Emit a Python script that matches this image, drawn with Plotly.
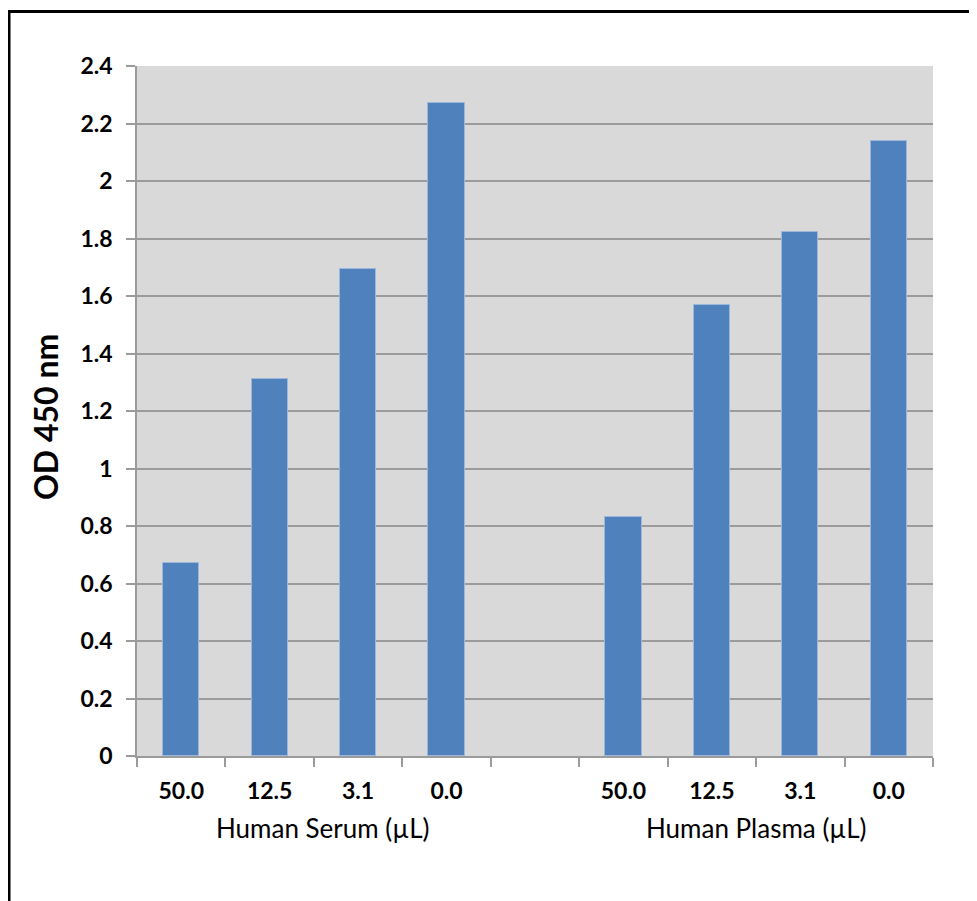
import plotly.graph_objects as go

# ---- data ----
dilutions = ["50.0", "12.5", "3.1", "0.0"]
serum_od = [0.670, 1.310, 1.694, 2.271]
plasma_od = [0.832, 1.569, 1.822, 2.140]
group_labels = ["Human Serum (µL)", "Human Plasma (µL)"]
y_tick_values = [0, 0.2, 0.4, 0.6, 0.8, 1.0, 1.2, 1.4, 1.6, 1.8, 2.0, 2.2, 2.4]
y_tick_labels = ["0", "0.2", "0.4", "0.6", "0.8", "1", "1.2", "1.4", "1.6", "1.8", "2", "2.2", "2.4"]
y_title = "OD 450 nm"

# ---- layout constants (pixels, page coordinates; page body has an 8px margin) ----
OFF = 8
W, H = 977, 901
L, R, T, B = 137 - OFF, 44 + OFF, 66 - OFF, 145 + OFF
PW, PH = W - L - R, H - T - B

def px_x(p):
    return (p - OFF - L) / PW

def px_y(p):
    return (H - B - (p - OFF)) / PH

n = len(dilutions)
serum_x = list(range(n))
plasma_x = [i + n + 1 for i in range(n)]
all_slots = n * 2 + 1

BAR = "#4F81BD"
GRID = "#9b9b9b"
FONT = "Lato"

fig = go.Figure()
for xs, ys in ((serum_x, serum_od), (plasma_x, plasma_od)):
    fig.add_trace(go.Bar(
        x=xs, y=ys, width=0.41,
        marker=dict(color=BAR, line=dict(color="#9bb7dc", width=1)),
        showlegend=False, hoverinfo="y",
    ))

fig.update_layout(
    width=W, height=H,
    margin=dict(l=L, r=R, t=T, b=B, autoexpand=False),
    paper_bgcolor="white", plot_bgcolor="#D9D9D9",
    bargap=0,
    font=dict(family=FONT, color="black"),
)

fig.update_xaxes(
    range=[-0.5, all_slots - 0.5],
    tickmode="array",
    tickvals=serum_x + plasma_x,
    ticktext=dilutions + dilutions,
    ticks="", showgrid=False, zeroline=False,
    showline=True, linecolor=GRID, linewidth=1.5,
    tickfont=dict(family=FONT, size=23, color="black", weight="bold"),
    ticklabelstandoff=14,
    minor=dict(tickmode="array",
               tickvals=[i - 0.5 for i in range(all_slots + 1)],
               ticks="outside", ticklen=9, tickcolor=GRID, tickwidth=1.5,
               showgrid=False),
    fixedrange=True,
)

fig.update_yaxes(
    range=[0, 2.4],
    tickmode="array", tickvals=y_tick_values, ticktext=y_tick_labels,
    ticks="outside", ticklen=9, tickcolor=GRID, tickwidth=1.5,
    showgrid=True, gridcolor=GRID, gridwidth=1.5,
    zeroline=False,
    showline=True, linecolor=GRID, linewidth=1.5,
    tickfont=dict(family=FONT, size=23, color="black", weight="bold"),
    ticklabelstandoff=9,
    fixedrange=True,
)

# group labels under the category labels
group_centers = [sum(serum_x) / n, sum(plasma_x) / n]
group_shift = [9, 0]
for label, cx, sh in zip(group_labels, group_centers, group_shift):
    fig.add_annotation(
        x=cx, xref="x", y=px_y(828), yref="paper",
        text=label, showarrow=False, xanchor="center", yanchor="middle",
        xshift=sh,
        font=dict(family=FONT, size=26, color="black"),
    )

# y-axis title
fig.add_annotation(
    x=px_x(46), xref="paper", y=px_y(417), yref="paper",
    text=y_title, textangle=-90, showarrow=False,
    xanchor="center", yanchor="middle",
    font=dict(family=FONT, size=32, color="black", weight="bold"),
)

# outer frame (extends past right and bottom edges, as in the reference)
fig.add_shape(
    type="rect", xref="paper", yref="paper",
    x0=px_x(9), x1=px_x(W + 30), y0=px_y(H + 30), y1=px_y(11.5),
    line=dict(color="black", width=3), fillcolor="rgba(0,0,0,0)",
    layer="above",
)

fig.write_html("out.html")
